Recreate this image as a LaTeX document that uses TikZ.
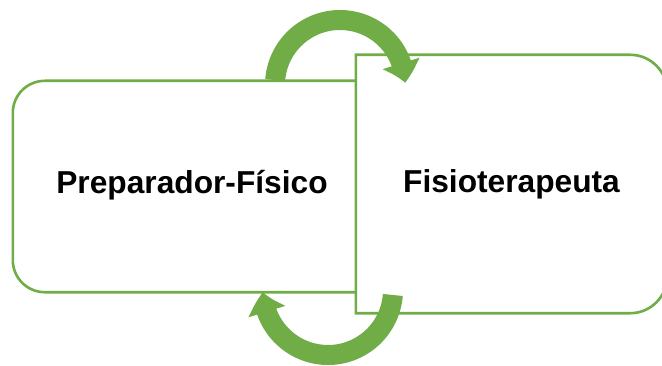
\documentclass[tikz,border=0pt]{standalone}
\usepackage{fontspec}
\setmainfont{Liberation Sans}
\usetikzlibrary{arrows.meta,bending}
\definecolor{boxgreen}{RGB}{112,173,71}

\begin{document}
\begin{tikzpicture}[x=1pt,y=1pt,
    boxline/.style={draw=boxgreen,line width=2.6pt},
    boxtext/.style={font=\fontsize{31.7}{36}\selectfont\bfseries,inner sep=0pt},
    cyclearrow/.style={draw=boxgreen,line width=20pt,-{Triangle[length=20pt,width=37pt,bend]}}]
    \useasboundingbox (0,0) rectangle (662,365);
    \clip (0,0) rectangle (662,365);

    \node[boxtext,minimum width=358pt,minimum height=211pt,
        text height=20pt,text depth=7pt] (prep) at (192,178.5) {Preparador-Físico};
    \draw[boxline] (prep.north east) -- ([xshift=32pt]prep.north west)
        arc[start angle=90,end angle=180,radius=32]
        -- ([yshift=32pt]prep.south west)
        arc[start angle=180,end angle=270,radius=32] -- (prep.south east) -- cycle;

    \node[boxtext,fill=white,minimum width=311pt,minimum height=258pt,
        text height=22pt,text depth=6pt] (fisio) at (511.5,181) {Fisioterapeuta};
    \draw[boxline] (fisio.north west) -- ([xshift=-37pt]fisio.north east)
        arc[start angle=90,end angle=0,radius=37]
        -- ([yshift=37pt]fisio.south east)
        arc[start angle=0,end angle=-90,radius=37] -- (fisio.south west) -- cycle;

    \coordinate (topc) at (340,280);
    \coordinate (botc) at (328,75);
    \draw[cyclearrow] ([shift={(175.6:65)}]topc) arc[start angle=175.6,end angle=2,radius=65];
    \draw[cyclearrow] ([shift={(-4.4:65)}]botc) arc[start angle=-4.4,end angle=-178,radius=65];
\end{tikzpicture}
\end{document}
